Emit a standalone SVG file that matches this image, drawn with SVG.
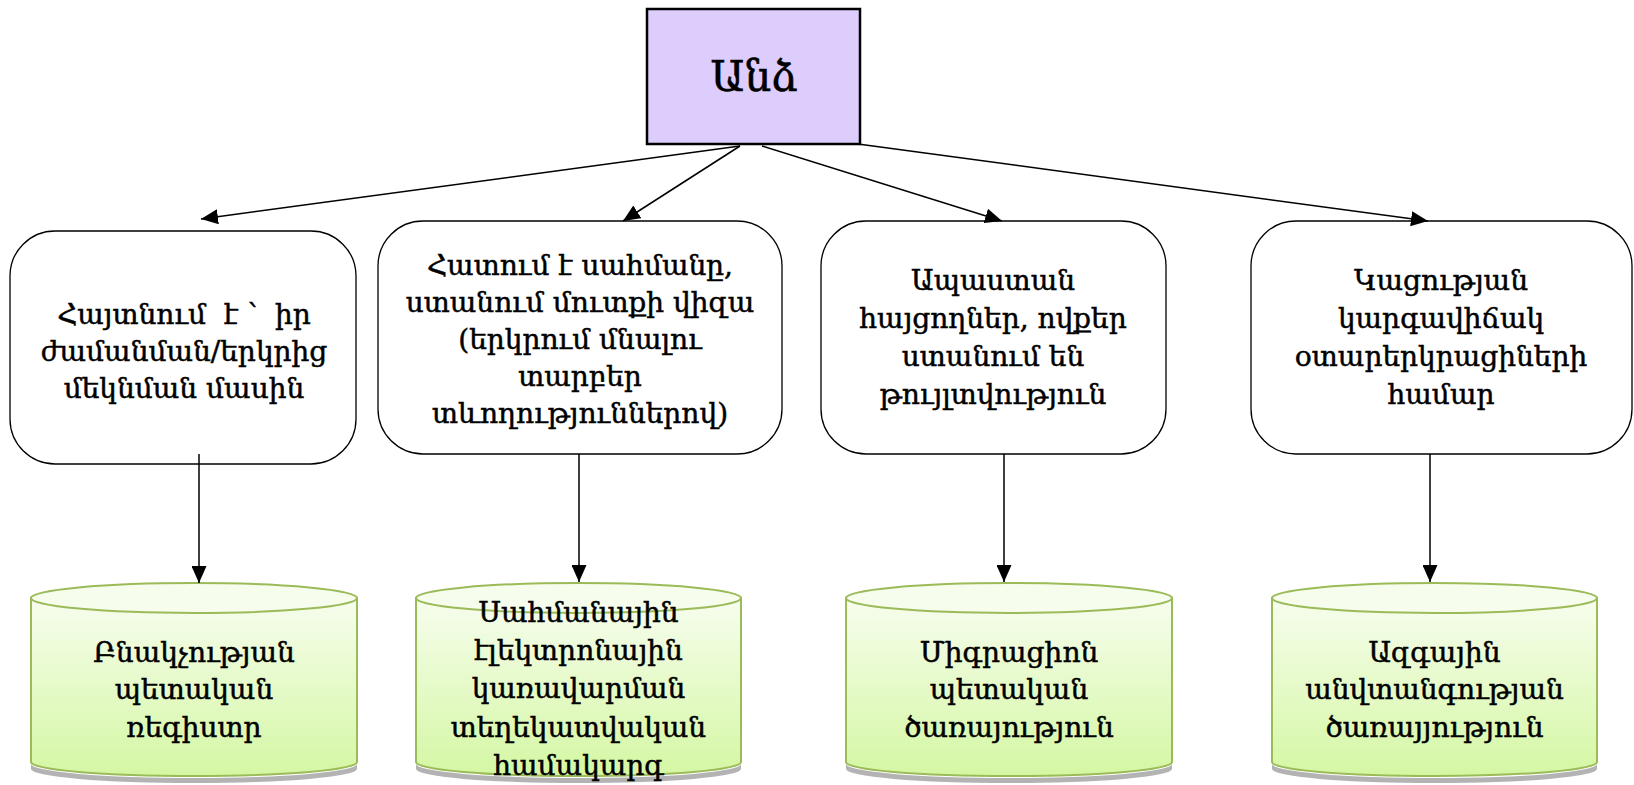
<svg xmlns="http://www.w3.org/2000/svg" width="1634" height="785" viewBox="0 0 1634 785">
<style>
.t{font-family:"DejaVu Serif","Noto Serif",serif;font-size:28px;fill:#000;stroke:#000;stroke-width:0.5;text-anchor:middle;white-space:pre}
.big{font-size:42px;stroke-width:0.6}
.box{fill:#fff;stroke:#000;stroke-width:1.3}
.cyl{fill:url(#g);stroke:#9bbb59;stroke-width:2}
.top{fill:#f6fdec;stroke:#9bbb59;stroke-width:2}
.sh{fill:#9a9a9a;opacity:.75}
.c{stroke:#000;stroke-width:1.5;fill:none;marker-end:url(#a)}
</style>
<defs>
<linearGradient id="g" x1="0" y1="0" x2="0" y2="1">
<stop offset="0" stop-color="#f7fdee"/>
<stop offset="1" stop-color="#d4f7a3"/>
</linearGradient>
<marker id="a" markerUnits="userSpaceOnUse" markerWidth="17" markerHeight="15" refX="17" refY="7.5" orient="auto" viewBox="0 0 17 15">
<path d="M0,0 L17,7.5 L0,15 Z" fill="#000"/>
</marker>
</defs>
<g id="root">
<rect x="647" y="9" width="213" height="135" fill="#dccdfd" stroke="#000" stroke-width="2.5"/>
<text class="t big" x="754" y="91">Անձ</text>
</g>
<g id="box1">
<rect class="box" x="10" y="231" width="346" height="233" rx="45"/>
<text class="t" x="184" y="324">Հայտնում  է ՝  իր</text>
<text class="t" x="184" y="361">ժամանման/երկրից</text>
<text class="t" x="184" y="398">մեկնման մասին</text>
</g>
<g id="box2">
<rect class="box" x="378" y="221" width="404" height="233" rx="45"/>
<text class="t" x="580" y="275">Հատում է սահմանը,</text>
<text class="t" x="580" y="312">ստանում մուտքի վիզա</text>
<text class="t" x="580" y="349">(երկրում մնալու</text>
<text class="t" x="580" y="386">տարբեր</text>
<text class="t" x="580" y="423">տևողություններով)</text>
</g>
<g id="box3">
<rect class="box" x="821" y="221" width="345" height="233" rx="45"/>
<text class="t" x="993" y="290">Ապաստան</text>
<text class="t" x="993" y="328">հայցողներ, ովքեր</text>
<text class="t" x="993" y="366">ստանում են</text>
<text class="t" x="993" y="404">թույլտվություն</text>
</g>
<g id="box4">
<rect class="box" x="1251" y="221" width="381" height="233" rx="45"/>
<text class="t" x="1441" y="290">Կացության</text>
<text class="t" x="1441" y="328">կարգավիճակ</text>
<text class="t" x="1441" y="366">օտարերկրացիների</text>
<text class="t" x="1441" y="404">համար</text>
</g>
<g id="db1">
<path class="sh" d="M31,764 A163,14 0 0,0 357,764 L357,769 A163,14 0 0,1 31,769 Z"/>
<path class="cyl" d="M31,598 L31,762 A163,14 0 0,0 357,762 L357,598 Z"/>
<ellipse class="top" cx="194" cy="598" rx="163" ry="15"/>
<text class="t" x="194" y="662">Բնակչության</text>
<text class="t" x="194" y="699">պետական</text>
<text class="t" x="194" y="737">ռեգիստր</text>
</g>
<g id="db2">
<path class="sh" d="M416,764 A162.5,14 0 0,0 741,764 L741,769 A162.5,14 0 0,1 416,769 Z"/>
<path class="cyl" d="M416,598 L416,762 A162.5,14 0 0,0 741,762 L741,598 Z"/>
<ellipse class="top" cx="578.5" cy="598" rx="162.5" ry="15"/>
<text class="t" x="578.5" y="622">Սահմանային</text>
<text class="t" x="578.5" y="660">էլեկտրոնային</text>
<text class="t" x="578.5" y="698">կառավարման</text>
<text class="t" x="578.5" y="737">տեղեկատվական</text>
<text class="t" x="578.5" y="775">համակարգ</text>
</g>
<g id="db3">
<path class="sh" d="M846,764 A163,14 0 0,0 1172,764 L1172,769 A163,14 0 0,1 846,769 Z"/>
<path class="cyl" d="M846,598 L846,762 A163,14 0 0,0 1172,762 L1172,598 Z"/>
<ellipse class="top" cx="1009" cy="598" rx="163" ry="15"/>
<text class="t" x="1009" y="662">Միգրացիոն</text>
<text class="t" x="1009" y="699">պետական</text>
<text class="t" x="1009" y="737">ծառայություն</text>
</g>
<g id="db4">
<path class="sh" d="M1272,764 A162.5,14 0 0,0 1597,764 L1597,769 A162.5,14 0 0,1 1272,769 Z"/>
<path class="cyl" d="M1272,598 L1272,762 A162.5,14 0 0,0 1597,762 L1597,598 Z"/>
<ellipse class="top" cx="1434.5" cy="598" rx="162.5" ry="15"/>
<text class="t" x="1434.5" y="662">Ազգային</text>
<text class="t" x="1434.5" y="699">անվտանգության</text>
<text class="t" x="1434.5" y="737">ծառայյություն</text>
</g>
<g id="connectors">
<line class="c" x1="740" y1="146" x2="201" y2="219"/>
<line class="c" x1="740" y1="146" x2="623" y2="221"/>
<line class="c" x1="762" y1="146" x2="1002" y2="221"/>
<line class="c" x1="858" y1="144" x2="1428" y2="221"/>
<line class="c" x1="199" y1="454" x2="199" y2="583"/>
<line class="c" x1="579" y1="454" x2="579" y2="582"/>
<line class="c" x1="1004" y1="454" x2="1004" y2="582"/>
<line class="c" x1="1430" y1="454" x2="1430" y2="582"/>
</g>
</svg>
